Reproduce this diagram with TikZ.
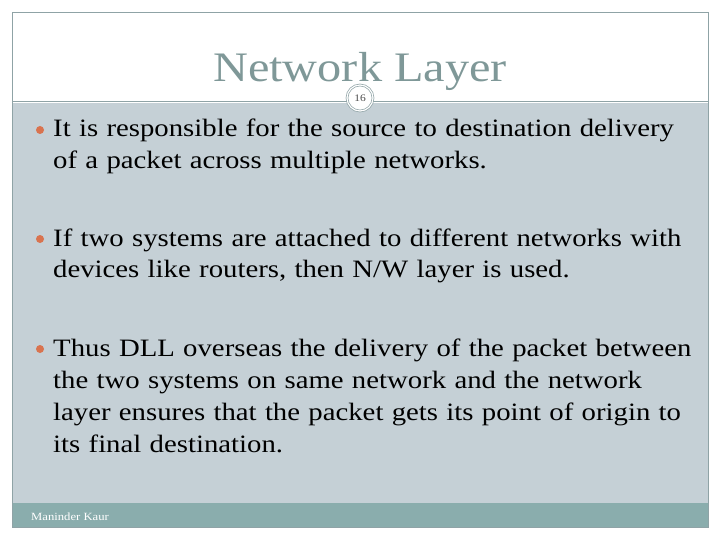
\documentclass[tikz,border=0pt]{standalone}
\usepackage{fontspec}
\setmainfont[FakeStretch=1.15]{Liberation Serif}
\definecolor{panel}{HTML}{C5D0D6}
\definecolor{band}{HTML}{8AADAD}
\definecolor{frame}{HTML}{8FA3A6}
\definecolor{titlec}{HTML}{7F9898}
\definecolor{bul}{HTML}{D9734F}
\begin{document}
\begin{tikzpicture}[x=1pt,y=-1pt,
  txt/.style={anchor=base west,inner sep=0pt,font=\fontsize{25}{32}\selectfont,text width=680pt,align=left},
  dot/.style={circle,fill=bul,inner sep=0pt,minimum size=8pt}]
\useasboundingbox (0,0) rectangle (720,540);
\fill[white] (0,0) rectangle (720,540);
\fill[panel] (12,103) rectangle (708,503);
\fill[band] (12,503) rectangle (708,527);
\draw[frame,line width=0.8pt] (12,12) rectangle (708,527);
\draw[frame,line width=0.8pt] (12,101) -- (708,101);
\node[circle,draw=frame,double=white,double distance=1.2pt,fill=white,line width=0.7pt,minimum size=26pt,inner sep=0pt,font=\fontsize{10}{10}\selectfont,text=black!70] (num) at (360,98) {16};
\node[anchor=base,inner sep=0pt,text=titlec,font=\fontsize{42}{42}\selectfont] (title) at (360,82) {Network Layer};
\node[dot] (b1) at (40,130) {};
\node[txt] (t1) at (53,137) {It is responsible for the source to destination delivery\\of a packet across multiple networks.};
\node[dot] (b2) at (40,239) {};
\node[txt] (t2) at (53,246) {If two systems are attached to different networks with\\devices like routers, then N/W layer is used.};
\node[dot] (b3) at (40,349) {};
\node[txt] (t3) at (53,356) {Thus DLL overseas the delivery of the packet between\\the two systems on same network and the network\\layer ensures that the packet gets its point of origin to\\its final destination.};
\node[anchor=base west,inner sep=0pt,text=white,font=\fontsize{11}{11}\selectfont] (foot) at (31,520) {Maninder Kaur};
\end{tikzpicture}
\end{document}
